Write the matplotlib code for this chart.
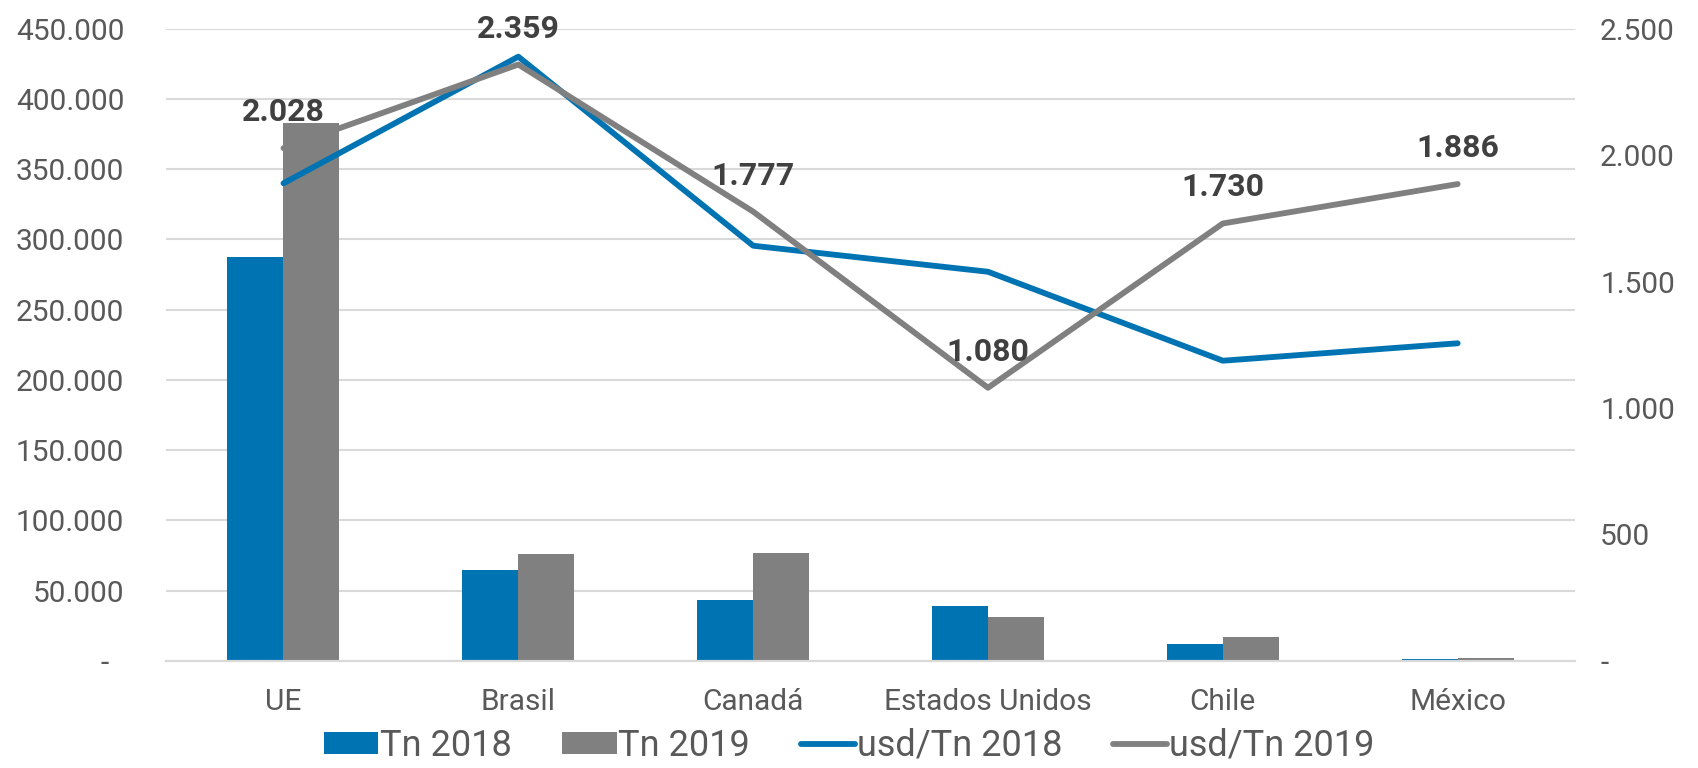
import matplotlib
matplotlib.use('Agg')
import matplotlib.pyplot as plt
import numpy as np
from matplotlib.ticker import FuncFormatter, FixedLocator

plt.rcParams['font.family'] = ['Roboto', 'DejaVu Sans']

# datos
paises = ['UE', 'Brasil', 'Canadá', 'Estados Unidos', 'Chile', 'México']
tn_2018 = [287300, 64400, 43200, 38700, 11900, 1000]
tn_2019 = [382800, 75800, 76500, 31300, 17100, 1700]
usd_2018 = [1889, 2390, 1642, 1539, 1187, 1256]
usd_2019 = [2028, 2359, 1777, 1080, 1730, 1886]

azul = '#0074B3'
gris = '#808080'
txt = '#595959'

fig = plt.figure(figsize=(16.98, 7.68), dpi=100)
ax = fig.add_axes([0.0978, 0.1397, 0.9276 - 0.0978, 0.9624 - 0.1397])
ax2 = ax.twinx()

x = np.arange(len(paises))
w = 0.2385
ax.bar(x - w / 2, tn_2018, w, color=azul, label='Tn 2018', zorder=2)
ax.bar(x + w / 2, tn_2019, w, color=gris, label='Tn 2019', zorder=2)

ax.set_xlim(-0.5, len(paises) - 0.5)
ax.set_ylim(0, 450000)
ax.yaxis.set_major_locator(FixedLocator(np.arange(0, 450001, 50000)))

def fmt_miles(v, pos):
    if v == 0:
        return '-  '
    return f'{int(v):,}'.replace(',', '.')

def fmt_right(v, pos):
    if v == 0:
        return '-'
    return f'{int(v):,}'.replace(',', '.')

ax.yaxis.set_major_formatter(FuncFormatter(fmt_miles))
ax.grid(axis='y', color='#d9d9d9', linewidth=1.5, zorder=0)
ax.set_axisbelow(True)

ax2.set_ylim(0, 2500)
ax2.yaxis.set_major_locator(FixedLocator(np.arange(0, 2501, 500)))
ax2.yaxis.set_major_formatter(FuncFormatter(fmt_right))

l1, = ax2.plot(x, usd_2018, color=azul, linewidth=4.2, solid_capstyle='round',
               solid_joinstyle='round', label='usd/Tn 2018', zorder=3)
l2, = ax2.plot(x, usd_2019, color=gris, linewidth=4.2, solid_capstyle='round',
               solid_joinstyle='round', label='usd/Tn 2019', zorder=4)

for xi, v in zip(x, usd_2019):
    ax2.annotate(f'{v:,}'.replace(',', '.'), (xi, v), xytext=(0, 36),
                 textcoords='offset pixels', ha='center', va='center',
                 fontsize=23, fontweight='bold', color='#404040', zorder=5)

for a in (ax, ax2):
    for s in ['top', 'left', 'right']:
        a.spines[s].set_visible(False)
    a.spines['bottom'].set_color('#d9d9d9')
    a.spines['bottom'].set_linewidth(1.5)
    a.tick_params(length=0, labelsize=21.5, colors=txt)

ax.tick_params(axis='y', pad=30)
ax2.tick_params(axis='y', pad=18)
ax.set_xticks(x)
ax.set_xticklabels(paises)
ax.tick_params(axis='x', pad=20)

h1, lb1 = ax.get_legend_handles_labels()
h2, lb2 = ax2.get_legend_handles_labels()
leg = fig.legend(h1 + h2, lb1 + lb2, loc='center', bbox_to_anchor=(0.5, 22 / 768),
                 ncol=4, frameon=False, fontsize=26, handlelength=1.5,
                 handleheight=0.55, handletextpad=0.05, columnspacing=1.4,
                 labelcolor=txt)

fig.savefig('out.png', dpi=100)
